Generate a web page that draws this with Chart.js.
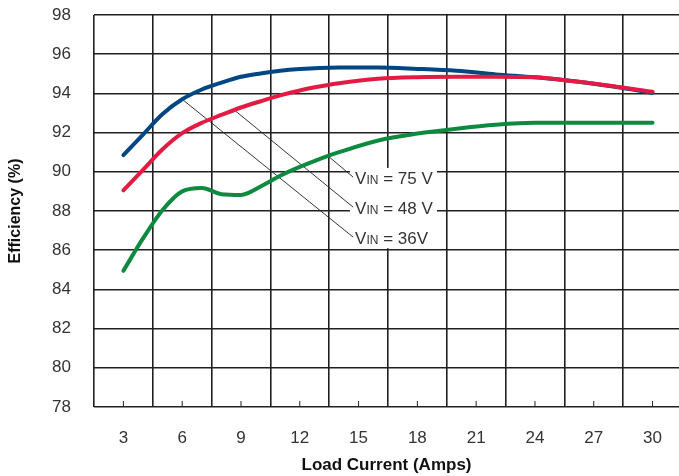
<!DOCTYPE html>
<html>
<head>
<meta charset="utf-8">
<script src="https://cdn.jsdelivr.net/npm/chart.js@4"></script>
<style>
  html, body { margin: 0; padding: 0; background: #fff; overflow: hidden; }
  #wrap { width: 679px; height: 476px; }
</style>
</head>
<body>
<div id="wrap"><canvas id="effChart"></canvas></div>
<script>
// load current (A) and efficiency (%)
const loadCurrent = [3, 4, 5, 6, 7, 8, 9, 10, 11, 12, 13, 14, 16, 18, 20, 22, 24, 26, 28, 30];
const vin36 = [90.85, 91.9, 92.95, 93.7, 94.2, 94.55, 94.85, 95.02, 95.15, 95.24, 95.3, 95.32, 95.32, 95.25, 95.15, 94.97, 94.82, 94.62, 94.35, 94.03];
const vin48 = [89.05, 90.1, 91.15, 91.97, 92.5, 92.9, 93.28, 93.6, 93.9, 94.15, 94.35, 94.52, 94.75, 94.83, 94.85, 94.85, 94.82, 94.62, 94.37, 94.08];
const vin75 = [84.95, 86.6, 88.05, 89.0, 89.17, 88.86, 88.82, 89.25, 89.8, 90.25, 90.65, 91.0, 91.6, 91.95, 92.2, 92.4, 92.5, 92.5, 92.5, 92.5];
const xTicks = [3, 6, 9, 12, 15, 18, 21, 24, 27, 30];
const yTicks = [78, 80, 82, 84, 86, 88, 90, 92, 94, 96, 98];

// callouts: where the leader leaves the curve, and label value
const callouts = [
  { value: "75 V", from: [13.45, 90.8], to: [14.72, 89.73] },
  { value: "48 V", from: [8.6, 93.2], to: [14.72, 88.2] },
  { value: "36V", from: [6.0, 93.7], to: [14.72, 86.67] },
];

const font = "'Liberation Sans', Arial, sans-serif";

const toPts = (ys) => loadCurrent.map((x, i) => ({ x: x, y: ys[i] }));

const calloutPlugin = {
  id: "callouts",
  beforeDatasetsDraw(chart) {
    const { ctx } = chart;
    const xs = chart.scales.x, ys = chart.scales.y;
    ctx.save();
    // white box behind labels
    const bx0 = xs.getPixelForValue(14.56), bx1 = xs.getPixelForValue(19.0);
    const by0 = ys.getPixelForValue(90.2), by1 = ys.getPixelForValue(86.1);
    ctx.fillStyle = "#fff";
    ctx.fillRect(bx0, by0, bx1 - bx0, by1 - by0);

    ctx.strokeStyle = "#231f20";
    ctx.lineWidth = 0.9;
    callouts.forEach((c) => {
      const x0 = xs.getPixelForValue(c.from[0]), y0 = ys.getPixelForValue(c.from[1]);
      const x1 = xs.getPixelForValue(c.to[0]), y1 = ys.getPixelForValue(c.to[1]);
      ctx.beginPath();
      ctx.moveTo(x0, y0);
      ctx.lineTo(x1, y1);
      ctx.stroke();

      let tx = x1 + 2;
      ctx.fillStyle = "#333";
      ctx.textBaseline = "alphabetic";
      ctx.textAlign = "left";
      const base = y1 + 7;
      ctx.font = "17px " + font;
      ctx.fillText("V", tx, base);
      tx += ctx.measureText("V").width;
      ctx.font = "12px " + font;
      ctx.fillText("IN", tx, base);
      tx += ctx.measureText("IN").width;
      ctx.font = "17px " + font;
      ctx.fillText(" = " + c.value, tx, base);
    });
    ctx.restore();
  },
  afterDatasetsDraw(chart) {
    // short inner tick marks above each x label
    const { ctx, chartArea } = chart;
    const xs = chart.scales.x;
    ctx.save();
    ctx.strokeStyle = "#231f20";
    ctx.lineWidth = 1;
    xTicks.forEach((v) => {
      const px = xs.getPixelForValue(v);
      ctx.beginPath();
      ctx.moveTo(px, chartArea.bottom);
      ctx.lineTo(px, chartArea.bottom - 6);
      ctx.stroke();
    });
    ctx.restore();
  },
};

const lineStyle = { borderWidth: 4, pointRadius: 0, fill: false, cubicInterpolationMode: "monotone", borderCapStyle: "round", borderJoinStyle: "round" };

new Chart(document.getElementById("effChart"), {
  type: "line",
  data: {
    datasets: [
      Object.assign({ label: "VIN = 48 V", data: toPts(vin48), borderColor: "#e31b43" }, lineStyle),
      Object.assign({ label: "VIN = 36V", data: toPts(vin36), borderColor: "#004682" }, lineStyle),
      Object.assign({ label: "VIN = 75 V", data: toPts(vin75), borderColor: "#0d8a40" }, lineStyle),
    ],
  },
  options: {
    responsive: true,
    maintainAspectRatio: false,
    animation: false,
    layout: { padding: { left: 0, right: 0, top: 15, bottom: 0 } },
    plugins: { legend: { display: false }, tooltip: { enabled: false } },
    scales: {
      x: {
        type: "linear",
        min: 1.5,
        max: 31.35,
        afterBuildTicks: (s) => {
          const t = [];
          for (let v = 1.5; v <= 31.35; v += 1.5) t.push({ value: v });
          s.ticks = t;
        },
        afterFit: (s) => { s.height = 69; s.paddingLeft = 0; s.paddingRight = 0; },
        border: { display: false },
        grid: {
          drawTicks: false,
          color: (c) => (c.tick && xTicks.includes(c.tick.value) ? "rgba(0,0,0,0)" : "#231f20"),
          lineWidth: 1.6,
        },
        ticks: {
          autoSkip: false,
          maxRotation: 0,
          padding: 21,
          color: "#333",
          font: { family: font, size: 17 },
          callback: (v) => (xTicks.includes(v) ? String(v) : ""),
        },
        title: {
          display: true,
          text: "Load Current (Amps)",
          color: "#111",
          font: { family: font, size: 17, weight: "bold" },
          padding: 0,
        },
      },
      y: {
        min: 78,
        max: 98,
        afterBuildTicks: (s) => { s.ticks = yTicks.map((v) => ({ value: v })); },
        afterFit: (s) => { s.width = 94; s.paddingTop = 0; s.paddingBottom = 0; },
        border: { display: false },
        grid: { drawTicks: false, color: "#231f20", lineWidth: 1.6 },
        ticks: {
          padding: 23,
          color: "#333",
          font: { family: font, size: 17 },
        },
        title: {
          display: true,
          text: "Efficiency (%)",
          color: "#111",
          font: { family: font, size: 16, weight: "bold" },
          padding: { top: 6, bottom: 0 },
        },
      },
    },
  },
  plugins: [calloutPlugin],
});
</script>
</body>
</html>
